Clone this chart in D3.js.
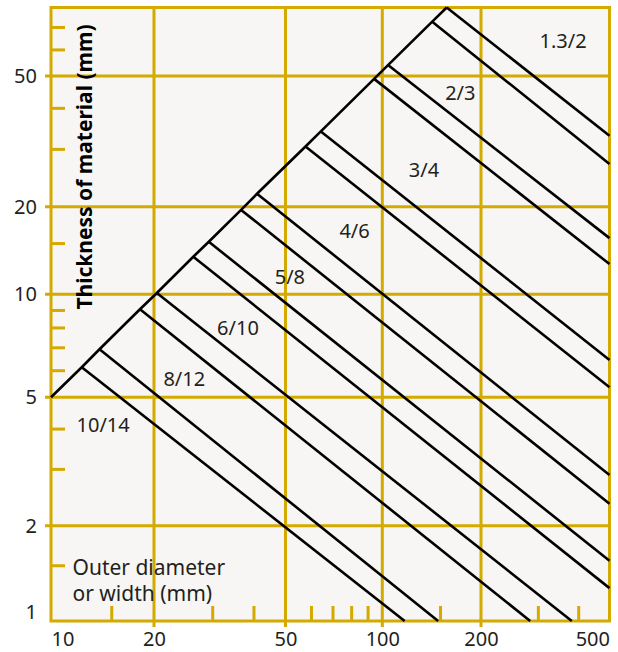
<!DOCTYPE html>
<html>
<head>
<meta charset="utf-8">
<script src="https://cdn.jsdelivr.net/npm/d3@7"></script>
<style>
  html, body { margin: 0; padding: 0; background: #ffffff; }
  svg { display: block; }
</style>
</head>
<body>
<svg id="chart" width="618" height="652"></svg>
<script>
// Axis ticks (mm, logarithmic)
const xMajorTicks = [10, 20, 50, 100, 200, 500];
const yMajorTicks = [1, 2, 5, 10, 20, 50];
const yTop = 80;
const xGridValues = [20, 50, 100, 200];
const yGridValues = [2, 5, 10, 20, 50];
const xMinorTicks = [15, 30, 40, 60, 70, 80, 90, 150, 300, 400];
const yMinorTicks = [1.5, 3, 4, 6, 7, 8, 9, 15, 30, 40, 60, 70];

// Boundary lines: start on the limit line, end at the chart edge
// [outer diameter, thickness]
const boundaryStart = [
  [157.2, 80], [142, 72.6], [104.1, 53.9], [94.3, 49], [64.4, 33.9], [57.7, 30.5],
  [41, 21.9], [36.7, 19.5], [29.3, 15.15], [26.3, 13.46], [20.4, 10.1], [18.2, 9.04],
  [13.86, 6.91], [12.3, 6.12]
];
const boundaryEnd = [
  [500, 32.9], [500, 27], [500, 15.6], [500, 12.7], [500, 6.43], [500, 5.35],
  [500, 2.87], [500, 2.34], [500, 1.55], [500, 1.27], [382, 1], [284, 1],
  [148, 1], [117, 1]
];
// Lower end of the limit line
const limitOrigin = [10, 5];

// Region labels and their anchor points [diameter, thickness]
const regionNames = ["1.3/2", "2/3", "3/4", "4/6", "5/8", "6/10", "8/12", "10/14"];
const regionAnchors = [
  [359, 64], [173, 44.5], [134, 26], [82, 16.6], [51.6, 11.5],
  [35.9, 8.0], [24.7, 5.67], [14.2, 4.13]
];

const GOLD = "#d4aa00";
const INK = "#231f20";
const FONT = "'Noto Sans', 'Open Sans', sans-serif";

const svg = d3.select("#chart");

const x = d3.scaleLog()
  .domain(xMajorTicks)
  .range([51, 154, 285.5, 382.3, 481, 609.5]);
const y = d3.scaleLog()
  .domain([...yMajorTicks, yTop])
  .range([621, 525.7, 397.3, 294.3, 206.7, 76, 7.5]);

const x0 = x(xMajorTicks[0]), x1 = x(xMajorTicks[xMajorTicks.length - 1]);
const y0 = y(yMajorTicks[0]), y1 = y(yTop);

// plot background
svg.append("rect")
  .attr("x", x0).attr("y", y1)
  .attr("width", x1 - x0).attr("height", y0 - y1)
  .attr("fill", "#f7f6f4");

// major grid
const grid = svg.append("g").attr("stroke", GOLD).attr("stroke-width", 3);
grid.selectAll("line.v").data(xGridValues).join("line")
  .attr("class", "v")
  .attr("x1", d => x(d)).attr("x2", d => x(d))
  .attr("y1", y1).attr("y2", y0 + 6);
grid.selectAll("line.h").data(yGridValues).join("line")
  .attr("class", "h")
  .attr("x1", x0 - 6).attr("x2", x1)
  .attr("y1", d => y(d)).attr("y2", d => y(d));

// minor ticks pointing into the plot
const xMinorAxis = svg.append("g")
  .attr("transform", `translate(0,${y0})`)
  .call(d3.axisBottom(x).tickValues(xMinorTicks).tickSize(-15).tickFormat(""));
const yMinorAxis = svg.append("g")
  .attr("transform", `translate(${x0},0)`)
  .call(d3.axisLeft(y).tickValues(yMinorTicks).tickSize(-14).tickFormat(""));
[xMinorAxis, yMinorAxis].forEach(g => {
  g.select(".domain").remove();
  g.selectAll(".tick line").attr("stroke", GOLD).attr("stroke-width", 3);
});

// frame
svg.append("rect")
  .attr("x", x0).attr("y", y1)
  .attr("width", x1 - x0).attr("height", y0 - y1)
  .attr("fill", "none")
  .attr("stroke", GOLD).attr("stroke-width", 3);

// limit line through the start of every boundary
const limitPoints = [limitOrigin, ...boundaryStart.slice().reverse()];
const lineGen = d3.line().x(d => x(d[0])).y(d => y(d[1]));
const marks = svg.append("g")
  .attr("fill", "none").attr("stroke", "#000").attr("stroke-width", 2.6)
  .attr("stroke-linejoin", "miter");
marks.append("path").attr("d", lineGen(limitPoints));
marks.selectAll("path.boundary")
  .data(boundaryStart.map((s, i) => [s, boundaryEnd[i]]))
  .join("path")
  .attr("class", "boundary")
  .attr("d", lineGen);

// tick labels
const xLabelAxis = svg.append("g")
  .attr("transform", `translate(0,${y0})`)
  .call(d3.axisBottom(x).tickValues(xMajorTicks).tickSize(0).tickPadding(11)
    .tickFormat(d3.format("d")));
const yLabelAxis = svg.append("g")
  .attr("transform", `translate(${x0},0)`)
  .call(d3.axisLeft(y).tickValues(yMajorTicks).tickSize(0).tickPadding(14)
    .tickFormat(d3.format("d")));
[xLabelAxis, yLabelAxis].forEach(g => {
  g.select(".domain").remove();
  g.attr("font-family", FONT).attr("font-size", 20);
  g.selectAll("text").attr("fill", INK);
});
// keep the end labels inside the frame
xLabelAxis.selectAll(".tick text")
  .attr("text-anchor", (d, i, n) => i === 0 ? "start" : i === n.length - 1 ? "end" : "middle");
yLabelAxis.selectAll(".tick text")
  .filter(d => d === yMajorTicks[0])
  .attr("dy", "-0.13em");

// region labels
svg.append("g")
  .attr("font-family", FONT).attr("font-size", 20).attr("fill", INK)
  .attr("text-anchor", "middle").attr("dominant-baseline", "central")
  .selectAll("text")
  .data(regionNames)
  .join("text")
  .attr("x", (d, i) => x(regionAnchors[i][0]))
  .attr("y", (d, i) => y(regionAnchors[i][1]))
  .text(d => d);

// axis titles
svg.append("text")
  .attr("transform", "translate(92,167) rotate(-90)")
  .attr("text-anchor", "middle")
  .attr("font-family", FONT).attr("font-size", 21).attr("font-weight", "bold")
  .attr("fill", "#000")
  .text("Thickness of material (mm)");

const xTitle = svg.append("text")
  .attr("font-family", FONT).attr("font-size", 21).attr("fill", INK);
xTitle.append("tspan").attr("x", 72.5).attr("y", 575).text("Outer diameter");
xTitle.append("tspan").attr("x", 72.5).attr("y", 600.5).text("or width (mm)");
</script>
</body>
</html>
